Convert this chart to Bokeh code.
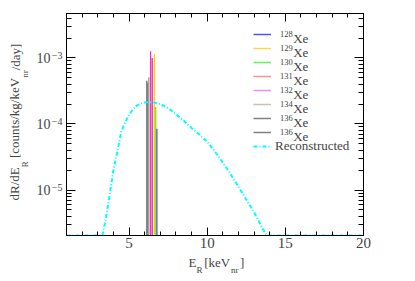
import math
from bokeh.plotting import figure
from bokeh.models import (FixedTicker, LinearAxis, LogAxis, Legend, Label,
                          LegendItem, Range1d, CustomJSTickFormatter)
from bokeh.embed import file_html
from bokeh.resources import INLINE

# ---------------- data ----------------
ISOTOPES = ["128", "129", "130", "131", "132", "134", "136", "136"]
PEAK_E = [6.78, 6.63, 6.71, 6.48, 6.38, 6.27, 6.20, 6.14]
PEAK_RATE = [8.5e-5, 1.15e-3, 1.8e-4, 1.0e-3, 1.26e-3, 5.1e-4, 4.2e-4, 4.5e-4]
BAR_COLORS = ["#2020ff", "#ffcc00", "#55ee11", "#e0174f", "#ff22dd",
              "#9a8e84", "#888888", "#5a5a5a"]
LEGEND_COLORS = ["#5050ff", "#ffd84a", "#5cf55c", "#ff9090", "#ee90ee",
                 "#cfbdb4", "#808080", "#808080"]
ELEMENT = "Xe"
RECO_LABEL = "Reconstructed"

RECO_E = [1.0, 3.3, 3.5, 3.75, 4.0, 4.25, 4.5, 4.75, 5.0, 5.25, 5.5, 5.75,
          6.0, 6.25, 6.5, 6.75, 7.0, 7.5, 8.0, 8.5, 9.0, 9.5, 10.0, 10.5,
          11.0, 11.5, 12.0, 12.5, 13.0, 13.5, 13.8, 20.0]
RECO_RATE = [2.05e-6, 2.05e-6, 3.5e-6, 8.0e-6, 2.0e-5, 3.8e-5, 7.6e-5, 1.05e-4,
             1.38e-4, 1.66e-4, 1.9e-4, 2.04e-4, 2.11e-4, 2.14e-4, 2.13e-4,
             2.07e-4, 2.0e-4, 1.74e-4, 1.41e-4, 1.12e-4, 8.7e-5, 6.9e-5,
             5.4e-5, 3.8e-5, 2.6e-5, 1.74e-5, 1.12e-5, 7.2e-6, 4.6e-6,
             2.75e-6, 2.05e-6, 2.05e-6]

X_TICKS = [5, 10, 15, 20]
Y_TICKS = [1e-5, 1e-4, 1e-3]
Y_TICK_BASE = ["10", "10", "10"]
Y_TICK_EXP = ["\u22125", "\u22124", "\u22123"]

X_TITLE_MAIN = ["E", "[keV", "]"]
X_TITLE_SUB = ["R", "nr"]
Y_TITLE_MAIN = ["dR/dE", "[counts/kg/keV", "/day]"]
Y_TITLE_SUB = ["R", "nr"]

X_MIN, X_MAX = 1.0, 20.0
Y_MIN, Y_MAX = 2.05e-6, 4.7e-3

FONT = "Liberation Serif"
NAN = float("nan")

# ---------------- layout (page pixels) ----------------
W, H = 415, 281
FR_L, FR_T, FR_R, FR_B = 66, 13, 363, 235
LY0, LY1 = math.log10(Y_MIN), math.log10(Y_MAX)


def xdata(px):
    return X_MIN + (px - FR_L) * (X_MAX - X_MIN) / (FR_R - FR_L)


def ydata(py):
    return 10 ** (LY0 + (FR_B - py) * (LY1 - LY0) / (FR_B - FR_T))


def ypix(v):
    return FR_B - (math.log10(v) - LY0) * (FR_B - FR_T) / (LY1 - LY0)


# ---------------- figure ----------------
p = figure(width=W, height=H, y_axis_type="log", output_backend="svg",
           toolbar_location=None, x_range=Range1d(X_MIN, X_MAX),
           y_range=Range1d(Y_MIN, Y_MAX),
           min_border_left=FR_L, min_border_right=W - FR_R,
           min_border_top=FR_T, min_border_bottom=H - FR_B)
p.grid.visible = False
p.outline_line_color = "black"
p.outline_line_width = 1
p.background_fill_color = "white"
p.border_fill_color = "white"

xticker = FixedTicker(ticks=X_TICKS, minor_ticks=list(range(1, 21)))
yminor = [m * 10.0 ** e for e in range(-6, -2) for m in range(2, 10)]
yticker = FixedTicker(ticks=Y_TICKS, minor_ticks=yminor)


def blank():
    return CustomJSTickFormatter(code="return ''")


def style_ticks(ax, major, minor):
    ax.major_tick_in = major
    ax.major_tick_out = 0
    ax.minor_tick_in = minor
    ax.minor_tick_out = 0
    ax.axis_line_color = "black"
    ax.major_tick_line_color = "black"
    ax.minor_tick_line_color = "black"


p.xaxis.ticker = xticker
style_ticks(p.xaxis[0], 8, 4)
p.xaxis.major_label_text_font = FONT
p.xaxis.major_label_text_font_size = "15px"
p.xaxis.major_label_standoff = 2

p.yaxis.ticker = yticker
p.yaxis.formatter = blank()
style_ticks(p.yaxis[0], 9, 5)
p.yaxis.major_label_text_font_size = "0px"
p.yaxis.major_label_standoff = 0

top = LinearAxis(ticker=xticker, formatter=blank(),
                 major_label_text_font_size="0px", major_label_standoff=0)
style_ticks(top, 8, 4)
p.add_layout(top, "above")
right = LogAxis(ticker=yticker, formatter=blank(),
                major_label_text_font_size="0px", major_label_standoff=0)
style_ticks(right, 9, 5)
p.add_layout(right, "right")


def text_axis(cls, ticks, labels, size, standoff, orientation="horizontal"):
    ax = cls(ticker=FixedTicker(ticks=ticks, minor_ticks=[]),
             formatter=CustomJSTickFormatter(args=dict(labels=labels),
                                             code="return labels[index]"),
             axis_line_color=None, major_tick_line_color=None,
             minor_tick_line_color=None, major_tick_in=0, major_tick_out=0,
             minor_tick_in=0, minor_tick_out=0, major_label_standoff=standoff,
             major_label_text_font=FONT, major_label_text_font_size=size,
             major_label_orientation=orientation)
    return ax


# y tick labels: exponent (closer to frame) then the base "10"
raise_px = 2.5
exp_pos = [ydata(ypix(v) - raise_px) for v in Y_TICKS]
p.add_layout(text_axis(LogAxis, exp_pos, Y_TICK_EXP, "10px", 4), "left")
p.add_layout(text_axis(LogAxis, Y_TICKS, Y_TICK_BASE, "14px", -2), "left")

# y title: subscripts then main line (outward); ticks ascending in data
y_main_c = [ydata(183.4), ydata(117.45), ydata(56.5)]
y_sub_c = [ydata(163.8), ydata(73.6)]
p.add_layout(text_axis(LogAxis, y_sub_c, Y_TITLE_SUB, "9px", 3, "vertical"), "left")
p.add_layout(text_axis(LogAxis, y_main_c, Y_TITLE_MAIN, "13px", -5, "vertical"), "left")

# x title: main line then subscripts (outward)
x_main_c = [xdata(192.0), xdata(216.7), xdata(241.7)]
x_sub_c = [xdata(199.0), xdata(234.25)]
p.add_layout(text_axis(LinearAxis, x_main_c, X_TITLE_MAIN, "13px", 4), "below")
p.add_layout(text_axis(LinearAxis, x_sub_c, X_TITLE_SUB, "9px", -8), "below")

# ---------------- glyphs ----------------
p.vbar(x=PEAK_E, top=PEAK_RATE, bottom=1e-7, width=0.075,
       fill_color=BAR_COLORS, line_color=None)
reco = p.line(RECO_E, RECO_RATE, line_color="#00ffff", line_width=2,
              line_dash="4 2 1 2")

# ---------------- legends ----------------
ROW = 14
ROW0 = 34.0           # page y of first row centre
GLYPH_X = 253         # page x of legend line samples
iso_items = []
for iso, col in zip(ISOTOPES, LEGEND_COLORS):
    # legend-only line sample (NaN point: nothing drawn in the plot area)
    r = p.line([NAN], [NAN], line_color=col, line_width=1.5)
    iso_items.append(LegendItem(label=iso, renderers=[r]))
n = len(ISOTOPES)
leg_iso = Legend(items=iso_items,
                 location=(GLYPH_X - FR_L, FR_B - (ROW0 - ROW / 2 + n * ROW)),
                 background_fill_alpha=0, border_line_color=None, padding=0,
                 margin=0, spacing=0, label_height=ROW, glyph_height=ROW,
                 glyph_width=18, label_standoff=9, label_text_font=FONT,
                 label_text_font_size="8.5px", label_text_baseline="bottom")
p.add_layout(leg_iso)

reco_row = ROW0 + n * 14.08
leg_reco = Legend(items=[LegendItem(label=RECO_LABEL, renderers=[reco])],
                  location=(GLYPH_X - FR_L, FR_B - (reco_row + ROW / 2)),
                  background_fill_alpha=0, border_line_color=None, padding=0,
                  margin=0, spacing=0, label_height=ROW, glyph_height=ROW,
                  glyph_width=18, label_standoff=4, label_text_font=FONT,
                  label_text_font_size="13px")
p.add_layout(leg_reco)

for i in range(n):
    cy = ROW0 + i * ROW
    p.add_layout(Label(x=292.7 - FR_L, y=FR_B - (cy + 4.3), x_units="screen",
                       y_units="screen", text=ELEMENT, text_align="left",
                       text_baseline="alphabetic", text_font=FONT,
                       text_font_size="13px"))

open("out.html", "w").write(file_html(p, INLINE))
